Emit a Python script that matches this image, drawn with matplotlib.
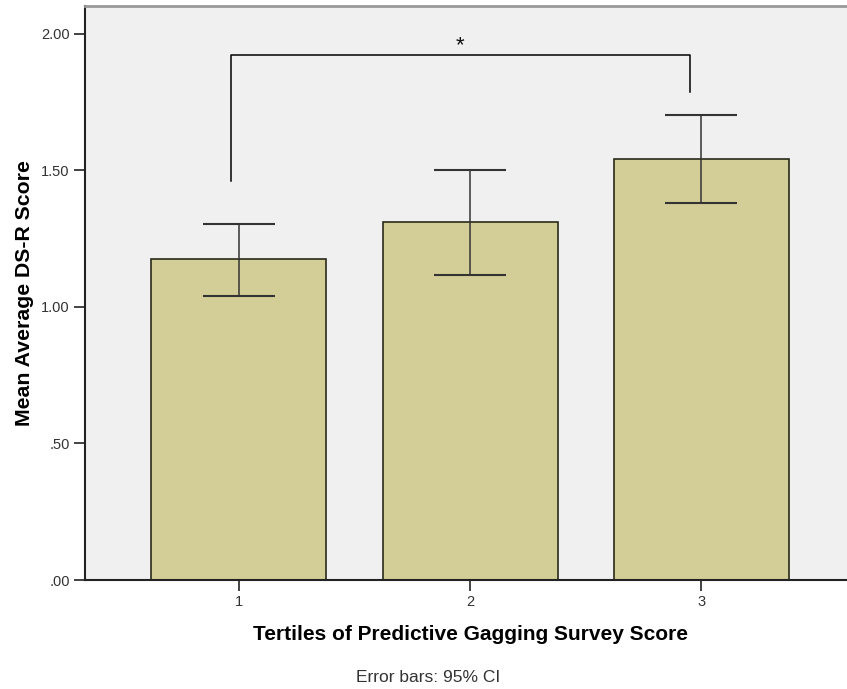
import matplotlib
matplotlib.use("Agg")
import matplotlib.pyplot as plt

categories = ["1", "2", "3"]
means = [1.175, 1.311, 1.542]
ci_low = [1.039, 1.118, 1.381]
ci_high = [1.305, 1.502, 1.703]
yticks = [0.0, 0.5, 1.0, 1.5, 2.0]
ytick_labels = [".00", ".50", "1.00", "1.50", "2.00"]

plt.rcParams['font.family'] = ['Liberation Sans', 'DejaVu Sans']

fig = plt.figure(figsize=(8.47, 6.89), dpi=100)
ax = fig.add_axes([0.1004, 0.1582, 0.9096, 0.8338])
ax.set_facecolor('#f0f0f0')

x = [1, 2, 3]
ax.bar(x, means, width=0.756, color='#d3ce97', edgecolor='#2a2a1a', linewidth=1.2, zorder=2)
yerr = [[m - l for m, l in zip(means, ci_low)], [h - m for m, h in zip(means, ci_high)]]
ax.errorbar(x, means, yerr=yerr, fmt='none', ecolor='#333333', elinewidth=1.1,
            capsize=26, capthick=1.5, zorder=3)

# significance bracket
bx = [0.965, 0.965, 2.952, 2.952]
by = [1.462, 1.923, 1.923, 1.788]
ax.plot(bx, by, color='black', linewidth=1.1, zorder=4)
ax.text(1.955, 1.918, '*', ha='center', va='bottom', fontsize=16, color='#111111')

ax.set_xlim(0.335, 3.666)
ax.set_ylim(0, 2.104)
ax.set_xticks(x)
ax.set_xticklabels(categories)
ax.set_yticks(yticks)
ax.set_yticklabels(ytick_labels)
ax.tick_params(axis='both', direction='out', length=8, width=1.2, colors='#222222',
               labelsize=10.5, labelcolor='#333333', pad=3)

for side in ['left', 'bottom']:
    ax.spines[side].set_color('#222222')
    ax.spines[side].set_linewidth(1.5)
ax.spines['top'].set_color('#999999')
ax.spines['top'].set_linewidth(2)
ax.spines['right'].set_visible(False)

ax.set_ylabel('Mean Average DS-R Score', fontsize=15.3, fontweight='bold', labelpad=5)
ax.set_xlabel('Tertiles of Predictive Gagging Survey Score', fontsize=15, fontweight='bold', labelpad=11)

fig.text(428 / 847, 1 - 677 / 689, 'Error bars: 95% CI', ha='center', va='center', fontsize=12.5,
         color='#333333', family=['Liberation Sans Narrow', 'Liberation Sans', 'DejaVu Sans'])

fig.savefig('out.png', dpi=100)
